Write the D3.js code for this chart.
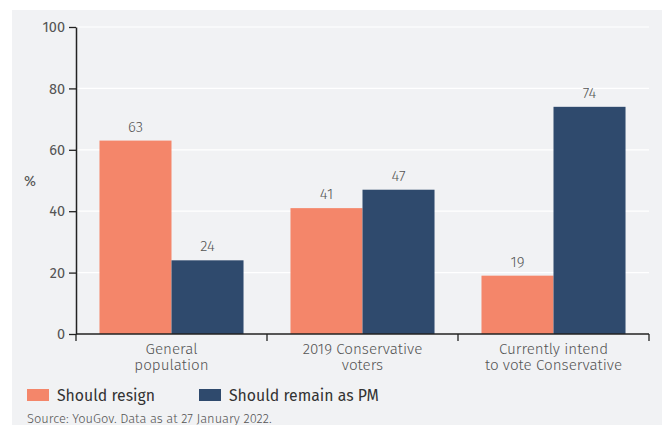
<!DOCTYPE html>
<html>
<head>
<meta charset="utf-8">
<script src="https://cdn.jsdelivr.net/npm/d3@7"></script>
<style>
  body { margin: 0; background: #fff; }
  svg { display: block; font-family: "Fira Sans", "Noto Sans", sans-serif; font-weight: 300; }
</style>
</head>
<body>
<svg id="chart" width="662" height="425"></svg>
<script>
// data
const categories = [["General", "population"], ["2019 Conservative", "voters"], ["Currently intend", "to vote Conservative"]];
const seriesNames = ["Should resign", "Should remain as PM"];
const resign = [63, 41, 19];
const remain = [24, 47, 74];
const yTicks = [0, 20, 40, 60, 80, 100];

const colors = ["#F4866A", "#2F4A6D"];

const svg = d3.select("#chart");
const width = 662, height = 425;
const margin = { top: 27, right: 13, bottom: 91, left: 76 };

// background panel
svg.append("rect")
  .attr("x", 12).attr("y", 10)
  .attr("width", width - 12).attr("height", height - 10)
  .attr("fill", "#F1F2F4");

const x = d3.scaleBand()
  .domain(d3.range(categories.length))
  .range([margin.left, width - margin.right])
  .paddingInner(0)
  .paddingOuter(0);

const x1 = d3.scaleBand()
  .domain([0, 1])
  .range([0, x.bandwidth()])
  .paddingOuter(0.326)
  .paddingInner(0);

const y = d3.scaleLinear()
  .domain([0, 100])
  .range([height - margin.bottom, margin.top]);

// gridlines
svg.append("g")
  .selectAll("line")
  .data(yTicks.filter(d => d > 0))
  .join("line")
  .attr("x1", margin.left).attr("x2", width - margin.right)
  .attr("y1", d => y(d)).attr("y2", d => y(d))
  .attr("stroke", "#fff").attr("stroke-width", 1.2);

// bars
const groups = svg.append("g")
  .selectAll("g")
  .data(categories.map((c, i) => ({ i, vals: [resign[i], remain[i]] })))
  .join("g")
  .attr("transform", d => `translate(${x(d.i)},0)`);

groups.selectAll("rect")
  .data(d => d.vals.map((v, k) => ({ k, v })))
  .join("rect")
  .attr("x", d => x1(d.k))
  .attr("y", d => y(d.v))
  .attr("width", x1.bandwidth())
  .attr("height", d => y(0) - y(d.v))
  .attr("fill", d => colors[d.k]);

groups.selectAll("text")
  .data(d => d.vals.map((v, k) => ({ k, v })))
  .join("text")
  .attr("x", d => x1(d.k) + x1.bandwidth() / 2)
  .attr("y", d => y(d.v) - 9)
  .attr("text-anchor", "middle")
  .attr("fill", "#555")
  .style("font-size", "15px")
  .text(d => d.v);

// y axis
const yAxis = svg.append("g")
  .attr("transform", `translate(${margin.left},0)`)
  .call(d3.axisLeft(y).tickValues(yTicks).tickSize(7).tickSizeOuter(0));
yAxis.select(".domain").attr("stroke", "#222").attr("stroke-width", 1.5);
yAxis.selectAll(".tick line").attr("stroke", "#222").attr("stroke-width", 1.3);
yAxis.selectAll(".tick text").attr("fill", "#555").style("font-size", "14.5px").attr("x", -11)
  .style("font-family", "'Fira Sans', sans-serif").style("font-weight", 400);

svg.append("text")
  .attr("x", 30).attr("y", 186)
  .attr("text-anchor", "middle")
  .attr("fill", "#555")
  .style("font-size", "14.5px")
  .style("font-weight", 400)
  .text("%");

// x axis
const xAxis = svg.append("g")
  .attr("transform", `translate(0,${y(0)})`);
xAxis.append("line")
  .attr("x1", margin.left).attr("x2", width - margin.right)
  .attr("stroke", "#222").attr("stroke-width", 1.5);
xAxis.selectAll(".sep")
  .data(d3.range(categories.length + 1))
  .join("line")
  .attr("class", "sep")
  .attr("x1", d => d < categories.length ? x(d) : x.range()[1])
  .attr("x2", d => d < categories.length ? x(d) : x.range()[1])
  .attr("y1", 0).attr("y2", 7)
  .attr("stroke", "#222").attr("stroke-width", 1.3);

xAxis.selectAll(".cat")
  .data(categories)
  .join("text")
  .attr("class", "cat")
  .attr("x", (d, i) => x(i) + x.bandwidth() / 2)
  .attr("y", 19.5)
  .attr("text-anchor", "middle")
  .attr("fill", "#555")
  .style("font-size", "15.2px")
  .selectAll("tspan")
  .data(d => d)
  .join("tspan")
  .attr("x", function () { return this.parentNode.getAttribute("x"); })
  .attr("dy", (d, j) => j === 0 ? 0 : 16.5)
  .text(d => d);

// legend
const legendX = [27, 199];
const legend = svg.append("g")
  .selectAll("g")
  .data(seriesNames)
  .join("g")
  .attr("transform", (d, i) => `translate(${legendX[i]},389)`);
legend.append("rect")
  .attr("width", 22).attr("height", 12)
  .attr("fill", (d, i) => colors[i]);
legend.append("text")
  .attr("x", 30).attr("y", 11.5)
  .attr("fill", "#333")
  .style("font-size", "15.8px")
  .style("font-weight", 400)
  .text(d => d);

// source
svg.append("text")
  .attr("x", 27).attr("y", 423)
  .attr("fill", "#555")
  .style("font-size", "12.9px")
  .text("Source: YouGov. Data as at 27 January 2022.");
</script>
</body>
</html>
